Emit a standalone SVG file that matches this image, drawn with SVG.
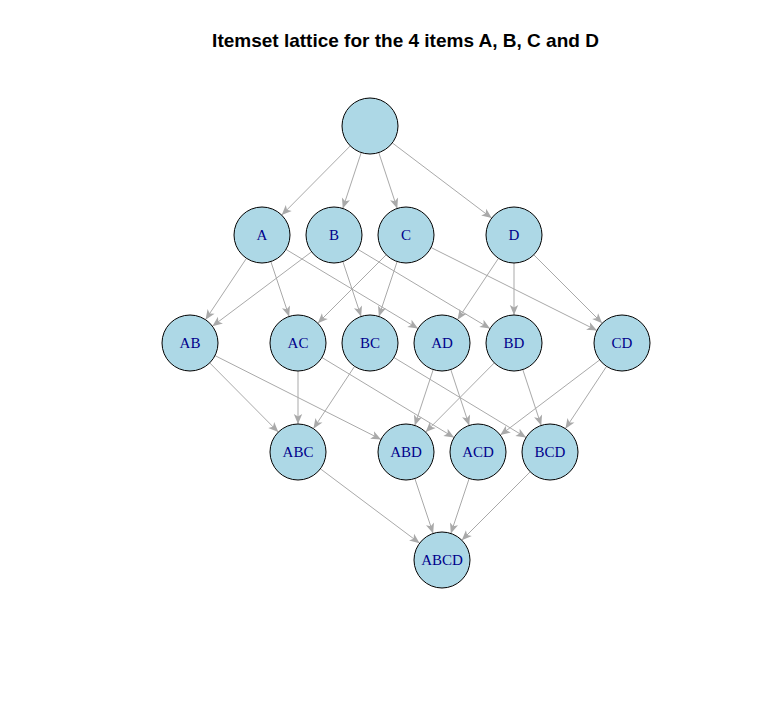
<svg xmlns="http://www.w3.org/2000/svg" width="775" height="707" viewBox="0 0 775 707">
<style>
.edge{stroke:#A9A9A9;stroke-width:1;fill:none;marker-end:url(#arr)}
.node circle{fill:#ADD8E6;stroke:#000;stroke-width:1}
.node text{font-family:"Liberation Serif","Times New Roman",serif;font-size:15px;fill:#00008B;text-anchor:middle}
.title{font-family:"Liberation Sans",Arial,sans-serif;font-size:19px;font-weight:bold;fill:#000;text-anchor:middle}
</style>
<defs>
<marker id="arr" markerUnits="userSpaceOnUse" viewBox="-11 -5 12 10" refX="0" refY="0" markerWidth="12" markerHeight="10" orient="auto">
<path d="M0,0 L-10,-4.2 L-7.5,0 L-10,4.2 Z" fill="#A9A9A9"/>
</marker>
</defs>
<rect width="775" height="707" fill="#fff"/>
<text class="title" x="405.5" y="47">Itemset lattice for the 4 items A, B, C and D</text>
<g id="edges">
<line class="edge" x1="350.29" y1="145.89" x2="281.71" y2="215.11"/>
<line class="edge" x1="361.22" y1="152.59" x2="342.78" y2="208.41"/>
<line class="edge" x1="378.78" y1="152.59" x2="397.22" y2="208.41"/>
<line class="edge" x1="392.32" y1="142.90" x2="491.68" y2="218.10"/>
<line class="edge" x1="246.47" y1="258.30" x2="205.53" y2="319.70"/>
<line class="edge" x1="270.85" y1="261.56" x2="289.15" y2="316.44"/>
<line class="edge" x1="286.01" y1="249.41" x2="417.99" y2="328.59"/>
<line class="edge" x1="311.6" y1="251.8" x2="212.4" y2="326.2"/>
<line class="edge" x1="342.85" y1="261.56" x2="361.15" y2="316.44"/>
<line class="edge" x1="358.01" y1="249.41" x2="489.99" y2="328.59"/>
<line class="edge" x1="386.2" y1="254.8" x2="317.8" y2="323.2"/>
<line class="edge" x1="397.15" y1="261.56" x2="378.85" y2="316.44"/>
<line class="edge" x1="431.04" y1="247.52" x2="596.96" y2="330.48"/>
<line class="edge" x1="498.47" y1="258.30" x2="457.53" y2="319.70"/>
<line class="edge" x1="514" y1="263" x2="514" y2="315"/>
<line class="edge" x1="533.8" y1="254.8" x2="602.2" y2="323.2"/>
<line class="edge" x1="209.71" y1="362.89" x2="278.29" y2="432.11"/>
<line class="edge" x1="215.0" y1="355.61" x2="381.0" y2="439.39"/>
<line class="edge" x1="298" y1="371" x2="298" y2="424"/>
<line class="edge" x1="321.95" y1="357.5" x2="454.05" y2="437.5"/>
<line class="edge" x1="354.57" y1="366.36" x2="313.43" y2="428.64"/>
<line class="edge" x1="393.95" y1="357.5" x2="526.05" y2="437.5"/>
<line class="edge" x1="433.22" y1="369.59" x2="414.78" y2="425.41"/>
<line class="edge" x1="450.78" y1="369.59" x2="469.22" y2="425.41"/>
<line class="edge" x1="494.29" y1="362.89" x2="425.71" y2="432.11"/>
<line class="edge" x1="522.78" y1="369.59" x2="541.22" y2="425.41"/>
<line class="edge" x1="599.68" y1="359.9" x2="500.32" y2="435.1"/>
<line class="edge" x1="606.57" y1="366.36" x2="565.43" y2="428.64"/>
<line class="edge" x1="320.4" y1="468.8" x2="419.6" y2="543.2"/>
<line class="edge" x1="414.85" y1="478.56" x2="433.15" y2="533.44"/>
<line class="edge" x1="469.15" y1="478.56" x2="450.85" y2="533.44"/>
<line class="edge" x1="530.2" y1="471.8" x2="461.8" y2="540.2"/>
</g>
<g id="n-empty" class="node"><circle cx="370" cy="126" r="28"/></g>
<g id="n-A" class="node"><circle cx="262" cy="235" r="28"/><text x="262" y="240">A</text></g>
<g id="n-B" class="node"><circle cx="334" cy="235" r="28"/><text x="334" y="240">B</text></g>
<g id="n-C" class="node"><circle cx="406" cy="235" r="28"/><text x="406" y="240">C</text></g>
<g id="n-D" class="node"><circle cx="514" cy="235" r="28"/><text x="514" y="240">D</text></g>
<g id="n-AB" class="node"><circle cx="190" cy="343" r="28"/><text x="190" y="348">AB</text></g>
<g id="n-AC" class="node"><circle cx="298" cy="343" r="28"/><text x="298" y="348">AC</text></g>
<g id="n-BC" class="node"><circle cx="370" cy="343" r="28"/><text x="370" y="348">BC</text></g>
<g id="n-AD" class="node"><circle cx="442" cy="343" r="28"/><text x="442" y="348">AD</text></g>
<g id="n-BD" class="node"><circle cx="514" cy="343" r="28"/><text x="514" y="348">BD</text></g>
<g id="n-CD" class="node"><circle cx="622" cy="343" r="28"/><text x="622" y="348">CD</text></g>
<g id="n-ABC" class="node"><circle cx="298" cy="452" r="28"/><text x="298" y="457">ABC</text></g>
<g id="n-ABD" class="node"><circle cx="406" cy="452" r="28"/><text x="406" y="457">ABD</text></g>
<g id="n-ACD" class="node"><circle cx="478" cy="452" r="28"/><text x="478" y="457">ACD</text></g>
<g id="n-BCD" class="node"><circle cx="550" cy="452" r="28"/><text x="550" y="457">BCD</text></g>
<g id="n-ABCD" class="node"><circle cx="442" cy="560" r="28"/><text x="442" y="565">ABCD</text></g>
</svg>
